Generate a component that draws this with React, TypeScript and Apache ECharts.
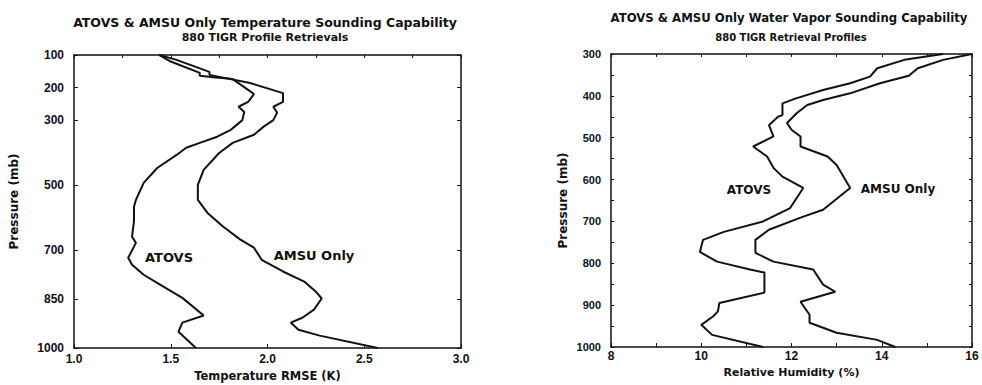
import React, { useEffect, useRef } from "react";
import * as echarts from "echarts";

// Temperature sounding (left panel)
const atovsTempP = [100, 120, 155, 164, 168, 174, 207, 220, 244, 259, 275, 300, 330, 351, 370, 385, 407, 447, 493, 545, 566, 610, 658, 677, 723, 744, 775, 811, 846, 900, 922, 950, 1000];
const atovsTempV = [1.44, 1.5, 1.65, 1.65, 1.72, 1.82, 1.9, 1.93, 1.9, 1.85, 1.88, 1.87, 1.81, 1.74, 1.65, 1.58, 1.53, 1.43, 1.36, 1.32, 1.31, 1.31, 1.3, 1.32, 1.28, 1.3, 1.36, 1.46, 1.56, 1.67, 1.56, 1.54, 1.63];
const amsuTempP = [100, 115, 152, 161, 186, 217, 244, 259, 277, 300, 320, 345, 370, 401, 453, 499, 545, 585, 627, 667, 692, 729, 765, 796, 827, 848, 882, 907, 922, 944, 962, 1000];
const amsuTempV = [1.44, 1.53, 1.7, 1.7, 1.91, 2.08, 2.08, 2.03, 2.05, 2.03, 1.98, 1.93, 1.82, 1.75, 1.67, 1.64, 1.64, 1.69, 1.77, 1.86, 1.93, 1.97, 2.08, 2.19, 2.25, 2.28, 2.24, 2.18, 2.12, 2.16, 2.27, 2.57];

// Water vapor sounding (right panel)
const atovsWvP = [300, 314, 334, 354, 370, 386, 406, 418, 446, 450, 470, 497, 521, 545, 572, 593, 620, 668, 700, 725, 744, 773, 796, 815, 822, 870, 895, 915, 927, 947, 971, 1000];
const atovsWvV = [15.36, 14.5, 13.9, 13.74, 13.3, 12.7, 12.1, 11.8, 11.8, 11.7, 11.5, 11.6, 11.15, 11.46, 11.6, 11.8, 12.26, 11.97, 11.37, 10.5, 10.04, 9.97, 10.35, 11.08, 11.4, 11.4, 10.4, 10.37, 10.26, 10.0, 10.24, 11.37];
const amsuWvP = [300, 314, 334, 352, 370, 394, 410, 422, 441, 465, 481, 497, 521, 545, 565, 620, 672, 691, 720, 744, 775, 796, 815, 851, 868, 892, 923, 942, 966, 983, 1000];
const amsuWvV = [16.0, 15.36, 14.8, 14.6, 13.96, 13.3, 12.7, 12.35, 12.12, 11.9, 12.0, 12.2, 12.2, 12.8, 13.0, 13.3, 12.7, 12.2, 11.5, 11.2, 11.2, 11.6, 12.48, 12.7, 12.97, 12.2, 12.4, 12.4, 13.0, 13.9, 14.3];

const tempPressureLabels = [100, 200, 300, 500, 700, 850, 1000];
const wvPressureLabels = [300, 400, 500, 600, 700, 800, 900, 1000];

const FONT = "Liberation Sans";
const WIDE = "DejaVu Sans";
const INK = "#111";

const pairs = (v: number[], p: number[]) => v.map((x, i) => [x, p[i]]);

export default function App() {
  const ref = useRef<HTMLDivElement>(null);
  useEffect(() => {
    if (!ref.current) return;
    const chart = echarts.init(ref.current, undefined, { renderer: "svg" });
    const axisLine = { show: true, lineStyle: { color: INK, width: 1.5 } };
    const lbl = { color: INK, fontFamily: FONT, fontWeight: "bold" as const, fontSize: 12 };
    const nameStyle = { color: INK, fontFamily: WIDE, fontWeight: "bold" as const, fontSize: 12 };
    const line = (name: string, v: number[], p: number[], xi: number, yi: number) => ({
      type: "line",
      name,
      xAxisIndex: xi,
      yAxisIndex: yi,
      data: pairs(v, p),
      showSymbol: false,
      symbol: "none",
      lineStyle: { color: INK, width: 2 },
      z: 3,
    });
    const txt = (text: string, cx: number, top: number, size: number) => ({
      type: "text",
      x: cx,
      y: top,
      style: { text, font: `bold ${size}px "${WIDE}"`, fill: INK, textAlign: "center", textVerticalAlign: "middle" },
    });
    chart.setOption({
      animation: false,
      backgroundColor: "#fff",
      grid: [
        { left: 74, right: 521, top: 55, bottom: 37, show: false, containLabel: false, outerBoundsMode: "none" },
        { left: 611, right: 10, top: 54, bottom: 38, show: false, containLabel: false, outerBoundsMode: "none" },
      ],
      xAxis: [
        {
          type: "value", gridIndex: 0, min: 1, max: 3, interval: 0.5,
          axisLine, axisTick: { inside: true, length: 4, lineStyle: { color: INK } },
          axisLabel: { ...lbl, margin: 5, formatter: (v: number) => v.toFixed(1) },
          splitLine: { show: false },
          name: "Temperature RMSE (K)", nameLocation: "middle", nameGap: 21, nameTextStyle: { ...nameStyle, fontSize: 11.5 },
        },
        {
          type: "value", gridIndex: 0, position: "top", min: 1, max: 3, interval: 0.25,
          axisLine, axisTick: { inside: true, length: 3, lineStyle: { color: INK } },
          axisLabel: { show: false }, splitLine: { show: false },
        },
        {
          type: "value", gridIndex: 1, min: 8, max: 16, interval: 1,
          axisLine, axisTick: { inside: true, length: 4, lineStyle: { color: INK } },
          axisLabel: { ...lbl, margin: 3, formatter: (v: number) => (v % 2 === 0 ? String(v) : "") },
          splitLine: { show: false },
          name: "Relative Humidity (%)", nameLocation: "middle", nameGap: 20, nameTextStyle: { ...nameStyle, fontSize: 11 },
        },
        {
          type: "value", gridIndex: 1, position: "top", min: 8, max: 16, interval: 1,
          axisLine, axisTick: { inside: true, length: 3, lineStyle: { color: INK } },
          axisLabel: { show: false }, splitLine: { show: false },
        },
      ],
      yAxis: [
        {
          type: "value", gridIndex: 0, inverse: true, min: 100, max: 1000, interval: 50,
          axisLine,
          axisTick: { inside: true, length: 4, customValues: tempPressureLabels, lineStyle: { color: INK } },
          axisLabel: { ...lbl, margin: 10, customValues: tempPressureLabels, formatter: (v: number) => String(v) },
          splitLine: { show: false },
          name: "Pressure (mb)", nameLocation: "middle", nameGap: 54, nameTextStyle: nameStyle,
        },
        {
          type: "value", gridIndex: 0, position: "right", inverse: true, min: 100, max: 1000, interval: 50,
          axisLine,
          axisTick: { inside: true, length: 4, customValues: tempPressureLabels, lineStyle: { color: INK } },
          axisLabel: { show: false }, splitLine: { show: false },
        },
        {
          type: "value", gridIndex: 1, inverse: true, min: 300, max: 1000, interval: 50,
          axisLine,
          axisTick: { inside: true, length: 3, lineStyle: { color: INK } },
          axisLabel: { ...lbl, fontSize: 11, margin: 10, customValues: wvPressureLabels, formatter: (v: number) => String(v) },
          splitLine: { show: false },
          name: "Pressure (mb)", nameLocation: "middle", nameGap: 42, nameTextStyle: nameStyle,
        },
        {
          type: "value", gridIndex: 1, position: "right", inverse: true, min: 300, max: 1000, interval: 50,
          axisLine,
          axisTick: { inside: true, length: 3, lineStyle: { color: INK } },
          axisLabel: { show: false }, splitLine: { show: false },
        },
      ],
      graphic: [
        txt("ATOVS & AMSU Only Temperature Sounding Capability", 265, 22, 12.5),
        txt("880 TIGR Profile Retrievals", 265, 37, 11),
        txt("ATOVS & AMSU Only Water Vapor Sounding Capability", 789, 18, 11.7),
        txt("880 TIGR Retrieval Profiles", 791, 37, 10),
        txt("ATOVS", 169, 257, 13),
        txt("AMSU Only", 314, 255, 13),
        txt("ATOVS", 749, 190, 12),
        txt("AMSU Only", 898, 189, 12),
      ],
      series: [
        line("ATOVS", atovsTempV, atovsTempP, 0, 0),
        line("AMSU Only", amsuTempV, amsuTempP, 0, 0),
        line("ATOVS", atovsWvV, atovsWvP, 2, 2),
        line("AMSU Only", amsuWvV, amsuWvP, 2, 2),
      ],
    });
    return () => chart.dispose();
  }, []);
  return (
    <div
      ref={ref}
      style={{ position: "fixed", left: 0, top: 0, width: 982, height: 385, background: "#fff" }}
    />
  );
}
